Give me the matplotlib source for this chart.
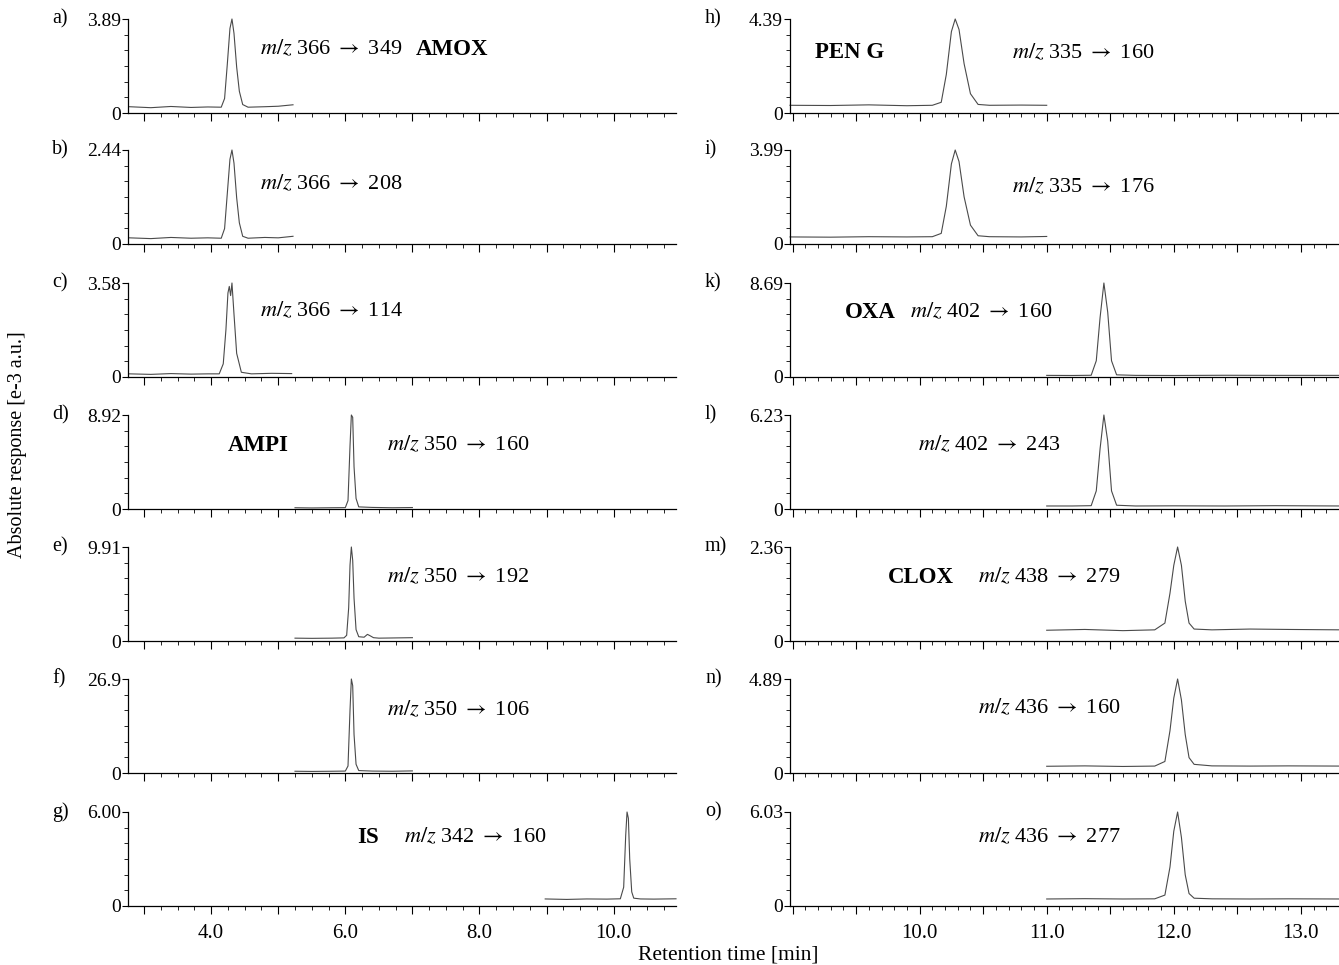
import numpy as np
import matplotlib
matplotlib.use("Agg")
import matplotlib.pyplot as plt
from matplotlib.ticker import MultipleLocator, FixedLocator, AutoMinorLocator, FuncFormatter
from matplotlib.transforms import blended_transform_factory

plt.rcParams['font.family'] = ['Liberation Serif', 'DejaVu Serif']
plt.rcParams['mathtext.fontset'] = 'stix'

# ---- data (time [min], response [e-3 a.u.]) ----
# left column: AMOX / AMPI / IS
a_t = [2.78, 3.1, 3.4, 3.7, 3.95, 4.15, 4.20, 4.24, 4.28, 4.31, 4.34, 4.38, 4.42, 4.47, 4.55, 4.8, 5.0, 5.22]
a_y = [0.26, 0.22, 0.27, 0.23, 0.25, 0.24, 0.6, 2.0, 3.5, 3.89, 3.3, 1.9, 0.9, 0.35, 0.24, 0.26, 0.28, 0.34]
b_t = a_t
b_y = [0.16, 0.14, 0.17, 0.15, 0.16, 0.15, 0.4, 1.3, 2.2, 2.44, 2.1, 1.2, 0.55, 0.2, 0.15, 0.17, 0.16, 0.2]
c_t = [2.78, 3.1, 3.4, 3.7, 3.95, 4.12, 4.18, 4.22, 4.25, 4.27, 4.29, 4.31, 4.34, 4.38, 4.45, 4.6, 4.9, 5.2]
c_y = [0.12, 0.10, 0.13, 0.11, 0.12, 0.12, 0.5, 1.8, 3.2, 3.45, 3.1, 3.58, 2.4, 0.9, 0.18, 0.12, 0.14, 0.13]
d_t = [5.25, 5.5, 5.8, 6.0, 6.04, 6.07, 6.09, 6.11, 6.13, 6.16, 6.2, 6.4, 6.7, 7.0]
d_y = [0.12, 0.10, 0.12, 0.13, 0.8, 6.0, 8.92, 8.7, 4.0, 1.0, 0.2, 0.15, 0.12, 0.14]
e_t = [5.25, 5.5, 5.8, 5.98, 6.02, 6.05, 6.07, 6.09, 6.11, 6.13, 6.16, 6.2, 6.28, 6.33, 6.37, 6.42, 6.5, 6.7, 7.0]
e_y = [0.3, 0.28, 0.3, 0.33, 0.6, 3.5, 8.0, 9.91, 8.5, 4.5, 1.2, 0.45, 0.4, 0.7, 0.55, 0.35, 0.3, 0.32, 0.35]
f_t = d_t
f_y = [0.5, 0.45, 0.5, 0.55, 2.0, 18.0, 26.9, 25.0, 11.0, 2.5, 0.7, 0.55, 0.5, 0.6]
g_t = [8.98, 9.3, 9.6, 9.9, 10.1, 10.15, 10.18, 10.2, 10.22, 10.24, 10.27, 10.3, 10.4, 10.6, 10.93]
g_y = [0.45, 0.42, 0.45, 0.44, 0.46, 1.2, 4.5, 6.0, 5.6, 3.0, 0.9, 0.5, 0.45, 0.44, 0.46]
# right column: PEN G / OXA / CLOX
h_t = [8.98, 9.3, 9.6, 9.9, 10.1, 10.17, 10.21, 10.25, 10.28, 10.31, 10.35, 10.4, 10.46, 10.55, 10.8, 11.0]
h_y = [0.36, 0.35, 0.38, 0.34, 0.36, 0.5, 1.8, 3.8, 4.39, 3.9, 2.3, 0.9, 0.4, 0.36, 0.37, 0.36]
i_t = h_t
i_y = [0.3, 0.29, 0.31, 0.3, 0.31, 0.45, 1.6, 3.4, 3.99, 3.5, 2.0, 0.8, 0.35, 0.31, 0.3, 0.32]
k_t = [11.0, 11.2, 11.35, 11.39, 11.42, 11.45, 11.48, 11.51, 11.55, 11.7, 12.0, 12.4, 12.8, 13.32]
k_y = [0.15, 0.14, 0.16, 1.5, 5.5, 8.69, 6.0, 1.5, 0.2, 0.15, 0.14, 0.16, 0.15, 0.15]
l_t = k_t
l_y = [0.2, 0.2, 0.22, 1.2, 4.0, 6.23, 4.5, 1.2, 0.25, 0.2, 0.21, 0.2, 0.22, 0.2]
m_t = [11.0, 11.3, 11.6, 11.85, 11.93, 11.97, 12.0, 12.03, 12.06, 12.09, 12.12, 12.16, 12.3, 12.6, 12.9, 13.32]
m_y = [0.27, 0.29, 0.26, 0.28, 0.45, 1.2, 1.9, 2.36, 1.9, 1.0, 0.45, 0.3, 0.28, 0.3, 0.29, 0.28]
n_t = m_t
n_y = [0.35, 0.37, 0.34, 0.36, 0.6, 2.2, 3.9, 4.89, 3.8, 2.0, 0.8, 0.45, 0.37, 0.36, 0.37, 0.36]
o_t = m_t
o_y = [0.45, 0.47, 0.45, 0.46, 0.7, 2.5, 4.8, 6.03, 4.4, 2.0, 0.8, 0.5, 0.46, 0.45, 0.46, 0.45]

letters_left = ["a)", "b)", "c)", "d)", "e)", "f)", "g)"]
letters_right = ["h)", "i)", "k)", "l)", "m)", "n)", "o)"]
ymax_left = ["3.89", "2.44", "3.58", "8.92", "9.91", "26.9", "6.00"]
ymax_right = ["4.39", "3.99", "8.69", "6.23", "2.36", "4.89", "6.03"]
trans_left = ["366 → 349", "366 → 208", "366 → 114", "350 → 160", "350 → 192", "350 → 106", "342 → 160"]
trans_right = ["335 → 160", "335 → 176", "402 → 160", "402 → 243", "438 → 279", "436 → 160", "436 → 277"]
names_left = {0: "AMOX", 3: "AMPI", 6: "IS"}
names_right = {0: "PEN G", 2: "OXA", 4: "CLOX"}
xlabels_left = [4.0, 6.0, 8.0, 10.0]
xlabels_right = [10.0, 11.0, 12.0, 13.0]

series_left = [(a_t, a_y), (b_t, b_y), (c_t, c_y), (d_t, d_y), (e_t, e_y), (f_t, f_y), (g_t, g_y)]
series_right = [(h_t, h_y), (i_t, i_y), (k_t, k_y), (l_t, l_y), (m_t, m_y), (n_t, n_y), (o_t, o_y)]

# label placement (axes fraction)
mz_x_left = [0.241, 0.241, 0.241, 0.473, 0.473, 0.473, 0.504]
mz_y_left = [0.68, 0.64, 0.70, 0.68, 0.68, 0.67, 0.73]
name_pos_left = {0: (0.526, 0.68), 3: (0.182, 0.68), 6: (0.418, 0.73)}
mz_x_right = [0.404, 0.404, 0.219, 0.233, 0.342, 0.342, 0.342]
mz_y_right = [0.64, 0.61, 0.69, 0.68, 0.68, 0.69, 0.73]
name_pos_right = {0: (0.046, 0.64), 2: (0.100, 0.69), 4: (0.179, 0.68)}

W, H = 1339, 965
fig = plt.figure(figsize=(W / 100, H / 100), dpi=100)
bottoms_px = [113, 244, 377, 509, 641, 773, 906]
ax_h = 94


def make_col(x0_px, x1_px, xlim, series, letters, ymaxs, trans, names, name_pos, mzx, mzy,
             letter_x, major, minor, xlabs):
    for r in range(7):
        ax = fig.add_axes([x0_px / W, 1 - bottoms_px[r] / H, (x1_px - x0_px) / W, ax_h / H])
        t, y = series[r]
        ymax = float(ymaxs[r])
        ax.plot(t, y, color='#4a4a4a', lw=0.8, clip_on=False)
        ax.set_xlim(*xlim)
        ax.set_ylim(0, ymax)
        for s in ['top', 'right']:
            ax.spines[s].set_visible(False)
        ax.spines['left'].set_linewidth(0.9)
        ax.spines['bottom'].set_linewidth(0.9)
        ax.yaxis.set_major_locator(FixedLocator([0, ymax]))
        ax.set_yticklabels(["0", ymaxs[r]])
        ax.yaxis.set_minor_locator(AutoMinorLocator(6))
        ax.xaxis.set_major_locator(MultipleLocator(major))
        ax.xaxis.set_minor_locator(MultipleLocator(minor))
        fmt = FuncFormatter(lambda v, p: f"{v:.1f}" if any(abs(v - q) < 1e-6 for q in xlabs) else "")
        ax.xaxis.set_major_formatter(fmt)
        ax.tick_params(axis='x', which='major', length=6, width=0.8, labelsize=15)
        ax.tick_params(axis='both', which='minor', length=3, width=0.6)
        ax.tick_params(axis='y', which='major', length=4, width=0.8, labelsize=14, pad=1)
        ax.tick_params(axis='x', labelbottom=(r == 6), pad=7)
        ax.patch.set_visible(False)
        tr = blended_transform_factory(fig.transFigure, ax.transAxes)
        ax.text(letter_x, 1.0, letters[r], transform=tr, fontsize=14.5, va='center', ha='left')
        ax.text(mzx[r], mzy[r], r"$m/z$ " + trans[r].replace("→", r"$\rightarrow$"),
                transform=ax.transAxes, fontsize=16, va='center', ha='left')
        if r in names:
            nx, ny = name_pos[r]
            ax.text(nx, ny, names[r], transform=ax.transAxes, fontsize=16.5,
                    fontweight='bold', va='center', ha='left')


make_col(128, 676, (2.76, 10.93), series_left, letters_left, ymax_left, trans_left,
         names_left, name_pos_left, mz_x_left, mz_y_left, 52 / W, 1.0, 0.25, xlabels_left)
make_col(790, 1339, (8.98, 13.3), series_right, letters_right, ymax_right, trans_right,
         names_right, name_pos_right, mz_x_right, mz_y_right, 705 / W, 0.5, 0.1, xlabels_right)

fig.text(728 / W, 1 - 955 / H, "Retention time [min]", ha='center', va='center', fontsize=15.5)
fig.text(18 / W, 1 - 445 / H, "Absolute response [e-3 a.u.]", ha='center', va='center',
         rotation=90, fontsize=14.5)

fig.savefig("out.png", dpi=100)
